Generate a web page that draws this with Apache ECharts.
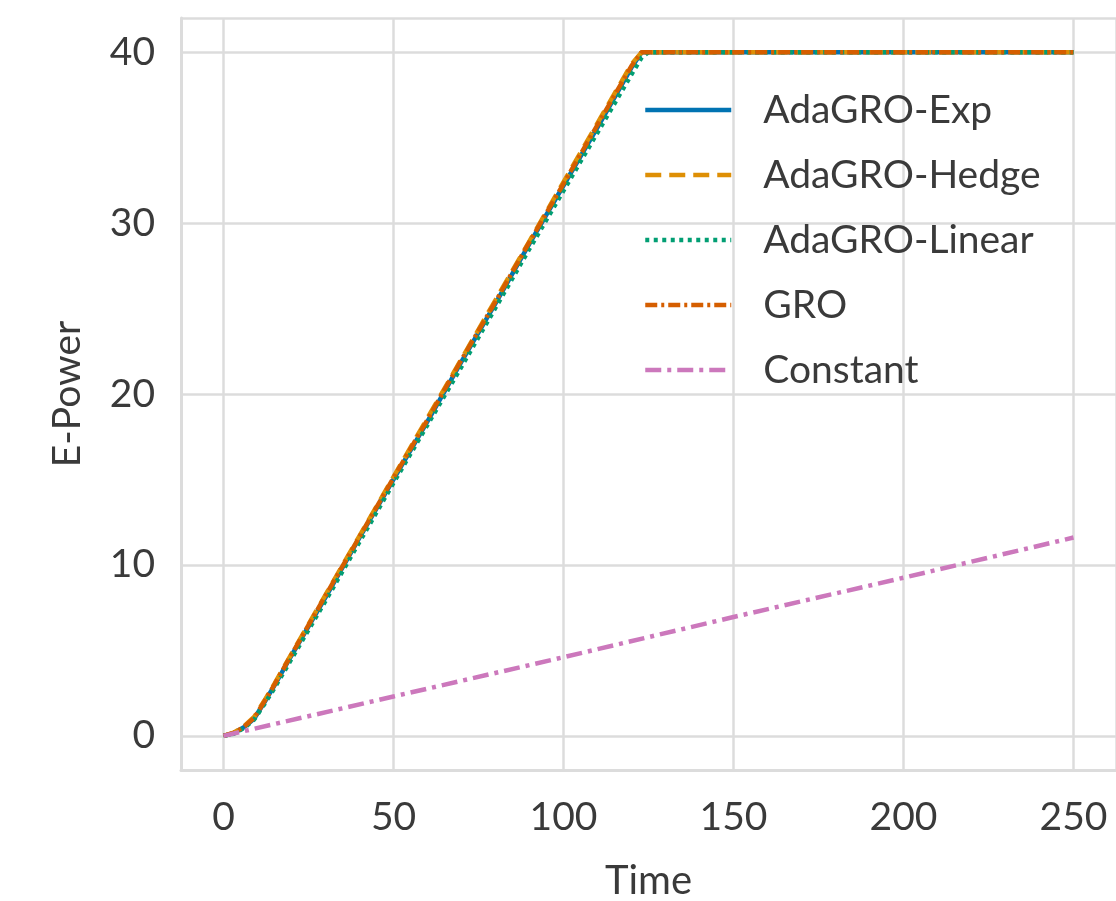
<!DOCTYPE html>
<html>
<head>
<meta charset="utf-8">
<script src="https://cdn.jsdelivr.net/npm/echarts@6/dist/echarts.min.js"></script>
<style>
  html, body { margin: 0; padding: 0; background: #fff; }
  #chart { width: 1116px; height: 901px; }
</style>
</head>
<body>
<div id="chart"></div>
<script>
// Time steps at which each E-Power curve is sampled
const timeSteps = [0, 3, 6, 9, 12, 15, 20, 30, 40, 50, 60, 70, 80, 90, 100, 110, 120, 123, 125, 150, 200, 250];

// E-Power of each schedule at those steps
const adaExp    = [0, 0.15, 0.5, 1.0, 1.95, 2.95, 4.7, 8.1, 11.6, 15.0, 18.4, 21.9, 25.3, 28.8, 32.2, 35.6, 39.1, 40, 40, 40, 40, 40];
const adaHedge  = [0, 0.18, 0.55, 1.1, 2.05, 3.05, 4.8, 8.25, 11.7, 15.15, 18.6, 22.05, 25.5, 28.95, 32.4, 35.85, 39.3, 40, 40, 40, 40, 40];
const adaLinear = [0, 0.12, 0.45, 0.95, 1.85, 2.8, 4.5, 7.9, 11.35, 14.8, 18.2, 21.6, 25.05, 28.5, 31.9, 35.3, 38.7, 39.7, 40, 40, 40, 40];
const gro       = [0, 0.17, 0.52, 1.05, 2.0, 3.0, 4.75, 8.2, 11.65, 15.1, 18.5, 22.0, 25.4, 28.9, 32.3, 35.75, 39.2, 40, 40, 40, 40, 40];

// Constant schedule grows linearly
const constTime   = [0, 50, 100, 150, 200, 250];
const constValues = [0, 2.3, 4.6, 6.95, 9.25, 11.6];

const seriesNames = ['AdaGRO-Exp', 'AdaGRO-Hedge', 'AdaGRO-Linear', 'GRO', 'Constant'];
const xTicks = [0, 50, 100, 150, 200, 250];
const yTicks = [0, 10, 20, 30, 40];

const pair = (xs, ys) => xs.map((x, i) => [x, ys[i]]);

const FONT = 'Lato';
const TEXT = '#3a3a3a';
const GRID = '#dcdcdc';

const lineSeries = (name, data, color, type, z) => ({
  name: name,
  type: 'line',
  data: data,
  symbol: 'none',
  showSymbol: false,
  smooth: false,
  z: z,
  lineStyle: { color: color, width: 4.5, type: type, cap: 'butt' },
  itemStyle: { color: color, opacity: 0 }
});

const chart = echarts.init(document.getElementById('chart'), null, { renderer: 'canvas' });
chart.setOption({
  backgroundColor: '#ffffff',
  animation: false,
  grid: { left: 181, top: 18, right: 0, bottom: 131, containLabel: false, outerBoundsMode: 'none' },
  xAxis: {
    type: 'value',
    min: -12.5,
    max: 262.5,
    name: 'Time',
    nameLocation: 'middle',
    nameGap: 91,
    nameTextStyle: { fontFamily: FONT, fontSize: 40, color: TEXT },
    axisLine: { show: true, onZero: false, lineStyle: { color: GRID, width: 3 } },
    axisTick: { show: false },
    axisLabel: {
      fontFamily: FONT, fontSize: 39, color: TEXT, margin: 28,
      customValues: xTicks,
      formatter: v => String(v)
    },
    splitLine: { show: true, lineStyle: { color: GRID, width: 2.5 } },
    customValues: xTicks
  },
  yAxis: {
    type: 'value',
    min: -2,
    max: 42,
    name: 'E-Power',
    nameLocation: 'middle',
    nameGap: 94,
    nameRotate: 90,
    nameTextStyle: { fontFamily: FONT, fontSize: 39, color: TEXT },
    axisLine: { show: true, onZero: false, lineStyle: { color: GRID, width: 3 } },
    axisTick: { show: false },
    axisLabel: {
      fontFamily: FONT, fontSize: 39, color: TEXT, margin: 26,
      customValues: yTicks,
      formatter: v => String(v)
    },
    splitLine: { show: true, lineStyle: { color: GRID, width: 2.5 } },
    customValues: yTicks
  },
  legend: {
    orient: 'vertical',
    left: 643,
    top: 90,
    padding: 0,
    data: seriesNames,
    itemWidth: 86,
    itemHeight: 20,
    itemGap: 25,
    itemStyle: { opacity: 0, borderWidth: 0 },
    lineStyle: { width: 4.5 },
    textStyle: {
      fontFamily: FONT, fontSize: 39, color: TEXT,
      lineHeight: 40, padding: [0, 0, 0, 27]
    }
  },
  series: [
    lineSeries(seriesNames[0], pair(timeSteps, adaExp), '#0173b2', 'solid', 2),
    lineSeries(seriesNames[1], pair(timeSteps, adaHedge), '#de8f05', [16, 8], 3),
    lineSeries(seriesNames[2], pair(timeSteps, adaLinear), '#029e73', [4, 4.5], 4),
    lineSeries(seriesNames[3], pair(timeSteps, gro), '#d55e00', [12, 4, 3, 4], 5),
    lineSeries(seriesNames[4], pair(constTime, constValues), '#cc78bc', [16, 6, 4, 6], 6)
  ]
});
</script>
</body>
</html>
